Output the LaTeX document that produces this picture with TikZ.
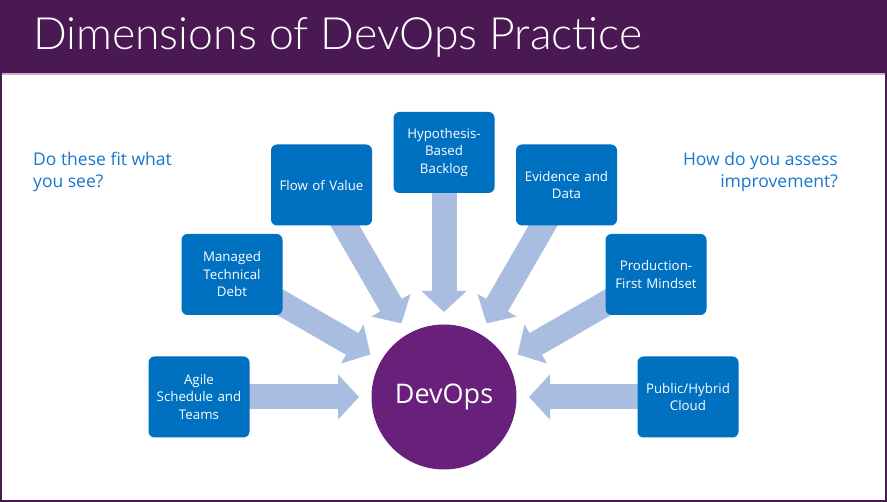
\documentclass[tikz,border=0pt]{standalone}
\usepackage{fontspec}
\setmainfont{Open Sans}
\IfFontExistsTF{Lato Light}{\newfontfamily\titlefont{Lato Light}}{%
  \IfFontExistsTF{Open Sans Light}{\newfontfamily\titlefont{Open Sans Light}}{\newfontfamily\titlefont{Open Sans}}}
\usetikzlibrary{arrows.meta,calc}
\definecolor{barpurple}{HTML}{4A1852}
\definecolor{barline}{HTML}{C7B0CB}
\definecolor{devpurple}{HTML}{68207A}
\definecolor{boxblue}{HTML}{0070C0}
\definecolor{arrowblue}{HTML}{A9BDE1}
\definecolor{sideblue}{HTML}{1877CC}
\pgfdeclarelayer{bgzero}
\pgfdeclarelayer{bgarrows}
\pgfsetlayers{bgzero,bgarrows,main}
\tikzset{
  dimbox/.style={rectangle, rounded corners=6pt, fill=boxblue, minimum width=101pt,
    minimum height=81pt, text width=95pt, align=center, text=white, inner sep=0pt,
    font=\fontsize{13.3}{17.5}\selectfont},
  flowarrow/.style={draw=arrowblue, line width=25pt, -{Triangle[width=44pt,length=21pt]}},
  sidetext/.style={text=sideblue, inner sep=0pt, font=\fontsize{17.5}{22}\selectfont}
}
\begin{document}
\begin{tikzpicture}[x=1pt,y=-1pt]
\useasboundingbox (0,0) rectangle (887,502);
\begin{pgfonlayer}{bgzero}
\fill[white] (0,0) rectangle (887,502);
\fill[barpurple] (0,0) rectangle (887,73);
\fill[barline] (0,73) rectangle (887,75);
\draw[barpurple,line width=2pt] (1,1) rectangle (886,501);
\end{pgfonlayer}
\node[anchor=base west, inner sep=0pt, text=white, font=\titlefont\fontsize{44.5}{54}\selectfont] (title) at (33,50) {Dimensions of DevOps Practice};

\node[circle, fill=devpurple, minimum size=145pt, inner sep=0pt, text=white,
  font=\fontsize{27}{30}\selectfont] (dev) at (444,397) {DevOps};

\node[dimbox] (agile) at (199,397) {Agile\\Schedule and\\Teams};
\node[dimbox] (debt) at (232,274.5) {Managed\\Technical\\Debt};
\node[dimbox] (flow) at (321.5,185) {Flow of Value};
\node[dimbox] (hyp) at (444,152.5) {Hypothesis-\\Based\\Backlog};
\node[dimbox] (evid) at (566.5,185) {Evidence and\\Data};
\node[dimbox] (prod) at (656,274.5) {Production-\\First Mindset};
\node[dimbox] (cloud) at (688,397) {Public/Hybrid\\Cloud};

\foreach \b in {agile,debt,flow,hyp,evid,prod,cloud}{
  \coordinate (tip-\b) at ($(dev.center)!85pt!(\b.center)$);
}
\begin{pgfonlayer}{bgarrows}
\foreach \b in {agile,debt,flow,hyp,evid,prod,cloud}{
  \draw[flowarrow] (\b.center) -- (tip-\b);
}
\end{pgfonlayer}

\node[sidetext, anchor=base west, align=left] (q1) at (33,188) {Do these fit what\\you see?};
\node[sidetext, anchor=base east, align=right] (q2) at (838,188) {How do you assess\\improvement?};
\end{tikzpicture}
\end{document}
